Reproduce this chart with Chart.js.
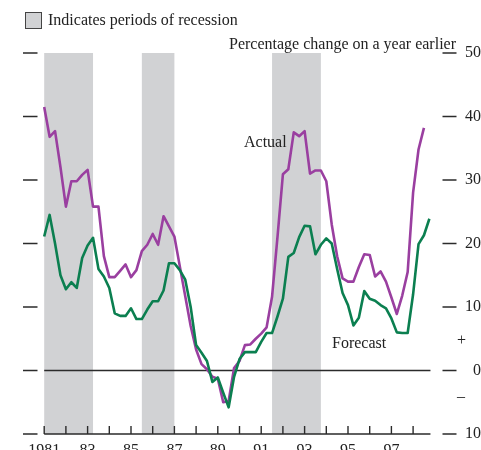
<!DOCTYPE html>
<html>
<head>
<meta charset="utf-8">
<script src="https://cdn.jsdelivr.net/npm/chart.js@4/dist/chart.umd.min.js"></script>
<style>
  body { margin: 0; background: #fff; }
  canvas { display: block; }
</style>
</head>
<body>
<canvas id="chart" width="481" height="450"></canvas>
<script>
// quarterly data, starting 1981 Q1
const startYear = 1981;
const actual = [
  41.5, 36.8, 37.7, 32, 25.8, 29.8, 29.8, 30.8, 31.6, 25.8,
  25.8, 18, 14.7, 14.7, 15.7, 16.7, 14.7, 15.8, 18.8, 19.8,
  21.5, 19.8, 24.3, 22.7, 21.1, 16.4, 11.7, 7, 3.3, 1,
  0.2, -1, -1.3, -5, -4.8, 0.4, 1.5, 4, 4.1, 5,
  5.8, 6.8, 11.6, 21, 30.9, 31.7, 37.5, 36.9, 37.7, 31,
  31.5, 31.5, 29.8, 23, 18, 14.5, 14, 14, 16.3, 18.3,
  18.2, 14.8, 15.6, 14, 11.5, 8.9, 11.8, 15.5, 28, 34.8,
  38.2
];
const forecast = [
  21.1, 24.5, 20, 15, 12.8, 13.9, 13, 17.7, 19.7, 20.9,
  16, 14.8, 13, 9, 8.6, 8.6, 9.8, 8.1, 8.1, 9.6,
  10.9, 10.9, 12.6, 16.9, 16.9, 15.8, 14.3, 10, 4, 2.8,
  1.5, -1.8, -1.1, -3.5, -5.8, -1, 1.8, 2.9, 2.9, 2.9,
  4.5, 5.9, 5.9, 8.5, 11.3, 17.9, 18.5, 21, 22.8, 22.7,
  18.3, 19.8, 20.8, 20, 16, 12.2, 10.3, 7.1, 8.3, 12.5,
  11.3, 11, 10.3, 9.8, 8.2, 6, 5.9, 5.9, 12, 19.9,
  21.3, 23.9
];
const recessions = [[1981, 1983.25], [1985.5, 1987], [1991.5, 1993.75]];
const tickYears = [1981, 1982, 1983, 1984, 1985, 1986, 1987, 1988, 1989,
  1990, 1991, 1992, 1993, 1994, 1995, 1996, 1997, 1998];
const labelYears = [1981, 1983, 1985, 1987, 1989, 1991, 1993, 1995, 1997];
const yearLabels = ['1981', '83', '85', '87', '89', '91', '93', '95', '97'];
const yLevels = [50, 40, 30, 20, 10, 0, -10];

const purple = '#9a3fa0';
const green = '#0b7f50';
const bandColor = '#d1d2d4';
const inkColor = '#2b2b2b';
const serif = "'Liberation Serif', 'Times New Roman', serif";

const toPoints = arr => arr.map((v, i) => ({ x: startYear + i / 4, y: v }));

const decor = {
  id: 'decor',
  beforeDatasetsDraw(chart) {
    const { ctx, chartArea, scales: { x, y } } = chart;
    ctx.save();
    const top = y.getPixelForValue(50), bottom = y.getPixelForValue(-10);
    ctx.fillStyle = bandColor;
    recessions.forEach(([a, b]) => {
      const x0 = x.getPixelForValue(a), x1 = x.getPixelForValue(b);
      ctx.fillRect(x0, top, x1 - x0, bottom - top);
    });
    ctx.strokeStyle = inkColor;
    ctx.lineWidth = 1.4;
    // zero line
    const y0 = y.getPixelForValue(0);
    ctx.beginPath();
    ctx.moveTo(x.getPixelForValue(1981), y0);
    ctx.lineTo(x.getPixelForValue(1998.8), y0);
    ctx.stroke();
    // base axis with year ticks
    ctx.beginPath();
    ctx.moveTo(x.getPixelForValue(1981), bottom);
    ctx.lineTo(x.getPixelForValue(1998.8), bottom);
    tickYears.forEach(t => {
      const px = x.getPixelForValue(t);
      ctx.moveTo(px, bottom);
      ctx.lineTo(px, bottom - 8);
    });
    ctx.stroke();
    // level dashes both sides
    ctx.beginPath();
    yLevels.forEach(v => {
      const py = y.getPixelForValue(v);
      ctx.moveTo(chartArea.left + 0.5, py);
      ctx.lineTo(chartArea.left + 15, py);
      ctx.moveTo(chartArea.right - 14, py);
      ctx.lineTo(chartArea.right, py);
    });
    ctx.stroke();
    ctx.restore();
  },
  afterDraw(chart) {
    const { ctx } = chart;
    ctx.save();
    // legend box
    ctx.fillStyle = bandColor;
    ctx.fillRect(25.5, 12.5, 16, 16);
    ctx.strokeStyle = '#444';
    ctx.lineWidth = 1;
    ctx.strokeRect(25.5, 12.5, 16, 16);
    ctx.fillStyle = '#222';
    ctx.font = '16px ' + serif;
    ctx.textBaseline = 'middle';
    ctx.textAlign = 'left';
    ctx.fillText('Indicates periods of recession', 48, 21);
    ctx.textAlign = 'right';
    ctx.fillText('Percentage change on a year earlier', 456, 45);
    ctx.textAlign = 'left';
    ctx.fillText('Actual', 244, 143);
    ctx.fillText('Forecast', 332, 344);
    ctx.textAlign = 'center';
    ctx.fillText('+', 461.5, 341);
    ctx.fillText('\u2013', 461, 397);
    ctx.restore();
  }
};

new Chart(document.getElementById('chart'), {
  type: 'line',
  data: {
    datasets: [
      { label: 'Forecast', data: toPoints(forecast), borderColor: green },
      { label: 'Actual', data: toPoints(actual), borderColor: purple }
    ]
  },
  options: {
    responsive: false,
    animation: false,
    layout: { padding: { left: 22.5, top: 53, right: 0, bottom: 0 } },
    elements: {
      line: { borderWidth: 2.6, tension: 0, borderJoinStyle: 'round' },
      point: { radius: 0 }
    },
    plugins: { legend: { display: false }, tooltip: { enabled: false } },
    scales: {
      x: {
        type: 'linear',
        min: 1980,
        max: 2000,
        afterBuildTicks: s => { s.ticks = labelYears.map(v => ({ value: v })); },
        afterFit: s => { s.height = 16; },
        grid: { display: false, drawTicks: false },
        border: { display: false },
        ticks: {
          autoSkip: false,
          maxRotation: 0,
          padding: 7,
          color: '#222',
          font: { family: serif, size: 16 },
          callback: v => yearLabels[labelYears.indexOf(v)] ?? ''
        }
      },
      y: {
        position: 'right',
        min: -10,
        max: 50,
        afterFit: s => { s.width = 24.5; },
        grid: { display: false, drawTicks: false },
        border: { display: false },
        ticks: {
          stepSize: 10,
          crossAlign: 'far',
          padding: 5,
          color: '#222',
          font: { family: serif, size: 16 },
          callback: v => String(Math.abs(v))
        }
      }
    }
  },
  plugins: [decor]
});
</script>
</body>
</html>
